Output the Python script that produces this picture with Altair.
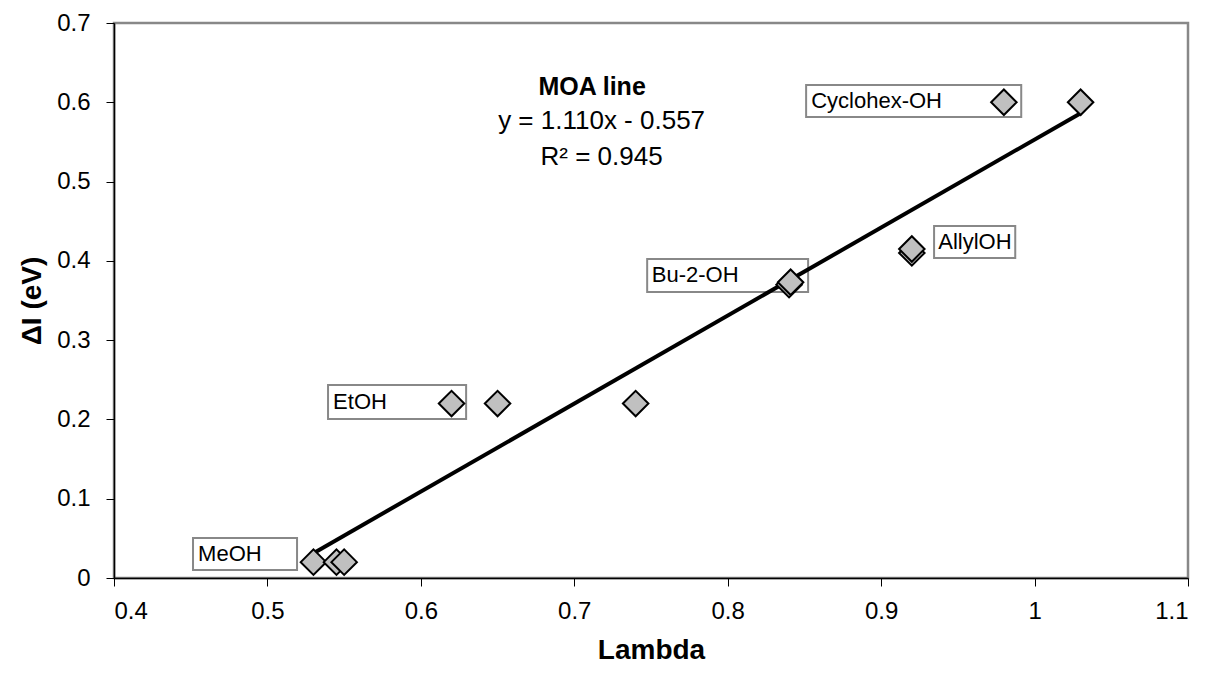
import altair as alt
import pandas as pd

# data points
lam = [0.53, 0.545, 0.55, 0.62, 0.65, 0.74, 0.84, 0.841, 0.92, 0.92, 0.98, 1.03]
dI = [0.02, 0.02, 0.02, 0.22, 0.22, 0.22, 0.37, 0.373, 0.41, 0.415, 0.60, 0.60]

# MOA fit line
slope = 1.110
intercept = -0.557
fit_x = [0.53, 1.03]

# labels
lab_names = ["MeOH", "EtOH", "Bu-2-OH", "AllylOH", "Cyclohex-OH"]
lab_x = [0.4548, 0.5428, 0.7505, 0.9372, 0.8544]
lab_y = [0.030, 0.222, 0.382, 0.4237, 0.6015]
box_x1 = [0.4515, 0.5395, 0.7475, 0.9345, 0.8511]
box_x2 = [0.5193, 0.6295, 0.8524, 0.9874, 0.9913]
box_y1 = [0.010, 0.2005, 0.3607, 0.4035, 0.5813]
box_y2 = [0.0504, 0.2434, 0.4023, 0.4439, 0.6217]

ann_text = ["MOA line", "y = 1.110x - 0.557", "R² = 0.945"]
ann_x = [0.7116, 0.7178, 0.7178]
ann_y = [0.6094, 0.5658, 0.5208]
ann_bold = ["bold", "normal", "normal"]

pts = pd.DataFrame({"x": lam, "y": dI})
fit = pd.DataFrame({"x": fit_x, "y": [slope * v + intercept for v in fit_x]})
labs = pd.DataFrame({"name": lab_names, "x": lab_x, "y": lab_y,
                     "x1": box_x1, "x2": box_x2, "y1": box_y1, "y2": box_y2})
ann = pd.DataFrame({"t": ann_text, "x": ann_x, "y": ann_y, "w": ann_bold})

FONT = "Liberation Sans"
xs = alt.Scale(domain=[0.4, 1.1], nice=False, zero=False)
ys = alt.Scale(domain=[0, 0.7], nice=False, zero=False)

xaxis = alt.Axis(values=[0.4, 0.5, 0.6, 0.7, 0.8, 0.9, 1.0, 1.1], format="~g",
                 title="Lambda", labelPadding=13, titlePadding=13)
yaxis = alt.Axis(values=[0, 0.1, 0.2, 0.3, 0.4, 0.5, 0.6, 0.7], format="~g",
                 title="ΔI (eV)", labelPadding=16, titlePadding=10)

boxes = alt.Chart(labs).mark_rect(fill="white", stroke="#888888", strokeWidth=2).encode(
    x=alt.X("x1:Q", scale=xs, axis=xaxis), x2="x2:Q",
    y=alt.Y("y1:Q", scale=ys, axis=yaxis), y2="y2:Q")

labtext = alt.Chart(labs).mark_text(align="left", baseline="middle", font=FONT,
                                    fontSize=22, color="black").encode(
    x=alt.X("x:Q", scale=xs, axis=xaxis), y=alt.Y("y:Q", scale=ys, axis=yaxis), text="name:N")

line = alt.Chart(fit).mark_line(color="black", strokeWidth=4).encode(
    x=alt.X("x:Q", scale=xs, axis=xaxis), y=alt.Y("y:Q", scale=ys, axis=yaxis))

points = alt.Chart(pts).mark_point(shape="diamond", filled=True, size=650,
                                   fill="#c0c0c0", stroke="black", strokeWidth=2,
                                   opacity=1).encode(
    x=alt.X("x:Q", scale=xs, axis=xaxis), y=alt.Y("y:Q", scale=ys, axis=yaxis))

anntext_b = alt.Chart(ann[ann.w == "bold"]).mark_text(font=FONT, fontSize=25, fontWeight="bold",
                                                     color="black", baseline="alphabetic").encode(
    x=alt.X("x:Q", scale=xs, axis=xaxis), y=alt.Y("y:Q", scale=ys, axis=yaxis), text="t:N")
anntext_n = alt.Chart(ann[ann.w == "normal"]).mark_text(font=FONT, fontSize=26,
                                                       color="black", baseline="alphabetic").encode(
    x=alt.X("x:Q", scale=xs, axis=xaxis), y=alt.Y("y:Q", scale=ys, axis=yaxis), text="t:N")

chart = alt.layer(boxes, labtext, line, points, anntext_b, anntext_n).properties(
    width=1074, height=555,
    padding={"left": 106, "top": 15, "right": 10, "bottom": 92},
    autosize=alt.AutoSizeParams(type="none"),
    background="white",
).configure_view(stroke="#888888", strokeWidth=2.5
).configure_axis(
    grid=False, tickSize=8, tickColor="black", domainColor="black", domainWidth=1.5,
    labelFontSize=24, labelFont=FONT, labelColor="black",
    titleFont=FONT, titleFontSize=28, titleFontWeight="bold", titleColor="black",
)

chart.save("out.html", embed_options={"renderer": "svg", "actions": False})
